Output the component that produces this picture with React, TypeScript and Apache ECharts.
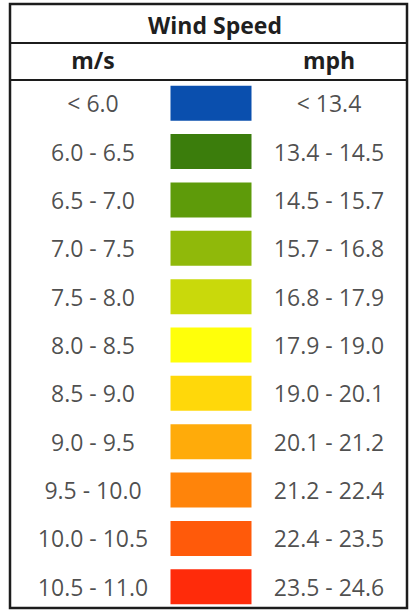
import React, { useEffect, useRef } from "react";
import * as echarts from "echarts";

const title = "Wind Speed";
const headers = ["m/s", "", "mph"];
const msLabels = ["< 6.0", "6.0 - 6.5", "6.5 - 7.0", "7.0 - 7.5", "7.5 - 8.0", "8.0 - 8.5", "8.5 - 9.0", "9.0 - 9.5", "9.5 - 10.0", "10.0 - 10.5", "10.5 - 11.0"];
const mphLabels = ["< 13.4", "13.4 - 14.5", "14.5 - 15.7", "15.7 - 16.8", "16.8 - 17.9", "17.9 - 19.0", "19.0 - 20.1", "20.1 - 21.2", "21.2 - 22.4", "22.4 - 23.5", "23.5 - 24.6"];
const swatchColors = ["#0a4fae", "#3b7d0c", "#5e9b0a", "#90b90a", "#c9d90b", "#ffff0a", "#ffd80a", "#ffab0a", "#ff840a", "#ff5a0a", "#ff2b0a"];

const FONT = "'Open Sans', sans-serif";
const TEXT = "#1f1f1f";

export default function App() {
  const ref = useRef<HTMLDivElement>(null);
  useEffect(() => {
    const chart = echarts.init(ref.current!, null, { renderer: "svg" });
    const labelSeries = (labels: string[], col: number) => ({
      type: "scatter",
      symbolSize: 0,
      silent: true,
      data: labels.map((t, i) => ({ name: t, value: [col, i] })),
      label: {
        show: true,
        position: "inside",
        formatter: "{b}",
        color: TEXT,
        fontFamily: FONT,
        fontSize: 23,
      },
    });
    chart.setOption({
      animation: false,
      backgroundColor: "#ffffff",
      title: {
        text: title,
        left: 210,
        top: 8,
        textAlign: "center",
        textStyle: { fontFamily: FONT, fontSize: 23, fontWeight: "bold", color: TEXT },
      },
      grid: { left: 34, right: 21, top: 79, bottom: 0 },
      xAxis: {
        type: "category",
        position: "top",
        data: headers,
        axisLine: { show: false },
        axisTick: { show: false },
        splitLine: { show: false },
        axisLabel: {
          color: TEXT,
          fontFamily: FONT,
          fontSize: 23,
          fontWeight: "bold",
          verticalAlign: "middle",
          margin: 19,
        },
      },
      yAxis: {
        type: "category",
        inverse: true,
        data: msLabels,
        show: false,
      },
      graphic: [
        {
          type: "rect",
          shape: { x: 10, y: 4, width: 397, height: 604 },
          style: { fill: "none", stroke: "#1c1c1c", lineWidth: 2.5 },
          z: 100,
        },
        {
          type: "line",
          shape: { x1: 10, y1: 43, x2: 407, y2: 43 },
          style: { stroke: "#1c1c1c", lineWidth: 2 },
          z: 100,
        },
        {
          type: "line",
          shape: { x1: 10, y1: 80, x2: 407, y2: 80 },
          style: { stroke: "#1c1c1c", lineWidth: 2 },
          z: 100,
        },
      ],
      series: [
        {
          type: "scatter",
          symbol: "rect",
          symbolSize: [81, 35],
          silent: true,
          data: swatchColors.map((c, i) => ({ value: [1, i], itemStyle: { color: c, opacity: 1 } })),
        },
        labelSeries(msLabels, 0),
        labelSeries(mphLabels, 2),
      ],
    });
    return () => chart.dispose();
  }, []);
  return (
    <div
      ref={ref}
      style={{ position: "fixed", left: 0, top: 0, width: 409, height: 611, background: "#fff" }}
    />
  );
}
